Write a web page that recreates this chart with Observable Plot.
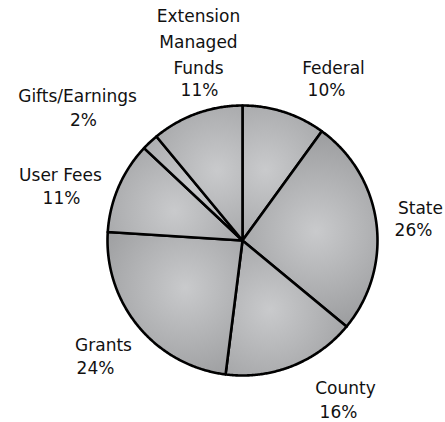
<!DOCTYPE html>
<html>
<head>
<meta charset="utf-8">
<script src="https://cdn.jsdelivr.net/npm/d3@7"></script>
<script src="https://cdn.jsdelivr.net/npm/@observablehq/plot@0.6"></script>
<style>
  html, body { margin: 0; padding: 0; background: #fff; }
  #chart { width: 445px; height: 422px; }
</style>
</head>
<body>
<div id="chart"></div>
<script>
// ---- data ----
const categories = ["Federal", "State", "County", "Grants", "User Fees", "Gifts/Earnings", "Extension Managed Funds"];
const shares = [10, 26, 16, 24, 11, 2, 11];
const nameLabels = ["Federal", "State", "County", "Grants", "User Fees", "Gifts/Earnings", "Extension\nManaged\nFunds"];
const pctLabels = shares.map(v => `${v}%`);

// ---- layout (pixels) ----
const W = 445, H = 422;
const CX = 242, CY = 240, R = 135;
// label offsets from pie centre, in pixels (y down)
const nameOffset = [[91, -175], [178, -35], [103, 145], [-139, 102], [-182, -68], [-165, -147], [-44, -201]];
const pctOffset = [[84, -150], [171, -10], [96, 172], [-147, 128], [-181, -42], [-159, -120], [-43, -150]];

const arcs = d3.pie().sort(null).value(d => d)(shares);

// polygon points of each slice in unit-radius data space
const slicePts = [];
arcs.forEach((a, i) => {
  const pts = [{x: 0, y: 0}];
  const n = Math.max(2, Math.ceil((a.endAngle - a.startAngle) / (Math.PI / 360)));
  for (let k = 0; k <= n; k++) {
    const t = a.startAngle + (a.endAngle - a.startAngle) * k / n;
    pts.push({x: Math.sin(t), y: Math.cos(t)});
  }
  pts.push({x: 0, y: 0});
  pts.forEach(p => slicePts.push({...p, slice: categories[i], grad: `url(#grad${i})`}));
});

const names = categories.map((c, i) => ({x: nameOffset[i][0] / R, y: -nameOffset[i][1] / R, text: nameLabels[i]}));
const pcts = categories.map((c, i) => ({x: pctOffset[i][0] / R, y: -pctOffset[i][1] / R, text: pctLabels[i]}));

const plot = Plot.plot({
  width: W,
  height: H,
  margin: 0,
  x: {domain: [-1, 1], range: [CX - R, CX + R], axis: null},
  y: {domain: [-1, 1], range: [CY + R, CY - R], axis: null},
  color: {type: "identity"},
  style: {background: "#fff", fontFamily: "DejaVu Sans, sans-serif", fontSize: "17px", color: "#111"},
  marks: [
    Plot.line(slicePts, {x: "x", y: "y", z: "slice", fill: "grad", stroke: "#000", strokeWidth: 2.6, strokeLinejoin: "round", curve: "linear"}),
    Plot.text(names, {x: "x", y: "y", text: "text", fontSize: 17, lineHeight: 1.53, lineAnchor: "middle", fill: "#111"}),
    Plot.text(pcts, {x: "x", y: "y", text: "text", fontSize: 17, lineAnchor: "middle", fill: "#111"})
  ]
});

// per-slice radial shading
const xs = plot.scale("x"), ys = plot.scale("y");
const defs = d3.select(plot).insert("defs", ":first-child");
arcs.forEach((a, i) => {
  const mid = (a.startAngle + a.endAngle) / 2;
  const g = defs.append("radialGradient")
    .attr("id", `grad${i}`)
    .attr("gradientUnits", "userSpaceOnUse")
    .attr("cx", xs.apply(0.55 * Math.sin(mid)))
    .attr("cy", ys.apply(0.55 * Math.cos(mid)))
    .attr("r", R * 0.72);
  g.append("stop").attr("offset", "0%").attr("stop-color", "#c9cacc");
  g.append("stop").attr("offset", "100%").attr("stop-color", "#9d9ea0");
});

document.getElementById("chart").appendChild(plot);
</script>
</body>
</html>
